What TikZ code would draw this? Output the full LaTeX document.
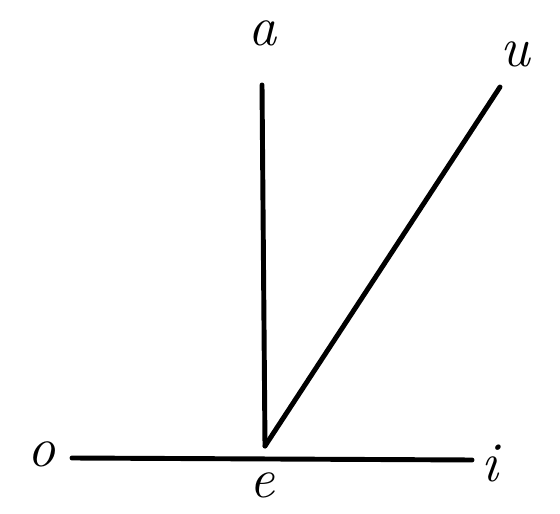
\documentclass[tikz,border=0pt]{standalone}
\usepackage{tikz}

\tikzset{
	vowelline/.style={line width=2.8pt, line cap=round},
	vowel/.style={font=\fontsize{32}{32}\itshape\selectfont, inner sep=0pt}
}

\begin{document}
\begin{tikzpicture}
	\useasboundingbox (0,0) rectangle (11.2,10.28);

	% Points of the diagram
	\coordinate (E) at (5.30,1.36);
	\coordinate (A) at (5.24,8.58);
	\coordinate (U) at (10.00,8.54);
	\coordinate (O) at (1.44,1.12);
	\coordinate (I) at (9.44,1.08);

	% Draw lines
	%Vertical
	\draw[vowelline] (E) -- (A);
	%Diagonal
	\draw[vowelline] (E) -- (U);
	%Horizontal
	\draw[vowelline] (O) -- (I);

	%Add labels
	\node[vowel] (a) at (5.26,9.62) {a};
	\node[vowel] (u) at (10.30,9.20) {u};
	\node[vowel] (o) at (0.84,1.20) {o};
	\node[vowel] (e) at (5.24,0.58) {e};
	\node[vowel] (i) at (9.80,1.00) {i};

\end{tikzpicture}
\end{document}
